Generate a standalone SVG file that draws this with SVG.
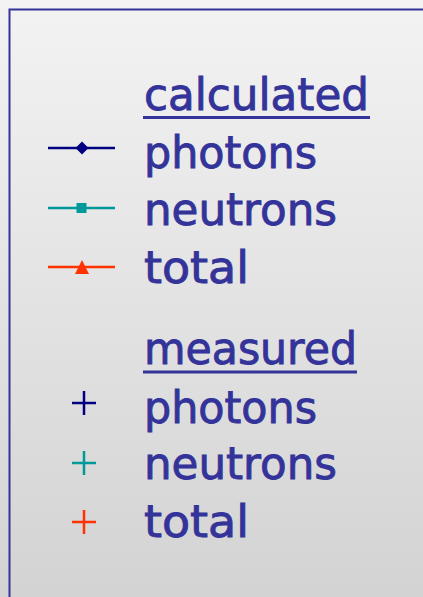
<svg xmlns="http://www.w3.org/2000/svg" width="423" height="597" viewBox="0 0 423 597">
<defs>
<linearGradient id="bg" x1="0" y1="0" x2="0" y2="1">
<stop offset="0" stop-color="#f3f3f3"/>
<stop offset="1" stop-color="#d3d3d3"/>
</linearGradient>
</defs>
<style>
.t{font-family:"Comic Sans MS","DejaVu Sans",sans-serif;font-size:44px;fill:#333399;stroke:#333399;stroke-width:0.9}
.u{stroke:#333399;stroke-width:3}
.m{stroke-width:2.5;fill:none}
</style>
<rect x="0" y="0" width="423" height="597" fill="url(#bg)"/>
<rect id="frame" x="9.5" y="9.5" width="430" height="600" fill="none" stroke="#333399" stroke-width="2"/>
<g id="calc-header">
<text class="t" x="144" y="110" textLength="225" lengthAdjust="spacingAndGlyphs">calculated</text>
<line class="u" x1="143" y1="117.5" x2="370" y2="117.5"/>
</g>
<g id="calc-photons">
<line x1="48" y1="148" x2="115" y2="148" stroke="#000080" stroke-width="2.5"/>
<polygon points="82,141.5 88.5,148 82,154.5 75.5,148" fill="#000080"/>
<text class="t" x="144" y="168" textLength="173" lengthAdjust="spacingAndGlyphs">photons</text>
</g>
<g id="calc-neutrons">
<line x1="48" y1="208" x2="115" y2="208" stroke="#009999" stroke-width="2.5"/>
<rect x="76.5" y="203" width="10" height="10" fill="#009999"/>
<text class="t" x="144" y="225" textLength="193" lengthAdjust="spacingAndGlyphs">neutrons</text>
</g>
<g id="calc-total">
<line x1="48" y1="267" x2="115" y2="267" stroke="#ff3300" stroke-width="2.5"/>
<polygon points="82,260 89,274 75,274" fill="#ff3300"/>
<text class="t" x="144" y="283" textLength="105" lengthAdjust="spacingAndGlyphs">total</text>
</g>
<g id="meas-header">
<text class="t" x="144" y="364" textLength="213" lengthAdjust="spacingAndGlyphs">measured</text>
<line class="u" x1="143" y1="372" x2="357" y2="372"/>
</g>
<g id="meas-photons">
<path class="m" d="M72,403H96M84,391V415" stroke="#000080"/>
<text class="t" x="144" y="423" textLength="173" lengthAdjust="spacingAndGlyphs">photons</text>
</g>
<g id="meas-neutrons">
<path class="m" d="M72,463H96M84,451V475" stroke="#009999"/>
<text class="t" x="144" y="479" textLength="193" lengthAdjust="spacingAndGlyphs">neutrons</text>
</g>
<g id="meas-total">
<path class="m" d="M72,522H96M84,510V534" stroke="#ff3300"/>
<text class="t" x="144" y="537" textLength="105" lengthAdjust="spacingAndGlyphs">total</text>
</g>
</svg>
